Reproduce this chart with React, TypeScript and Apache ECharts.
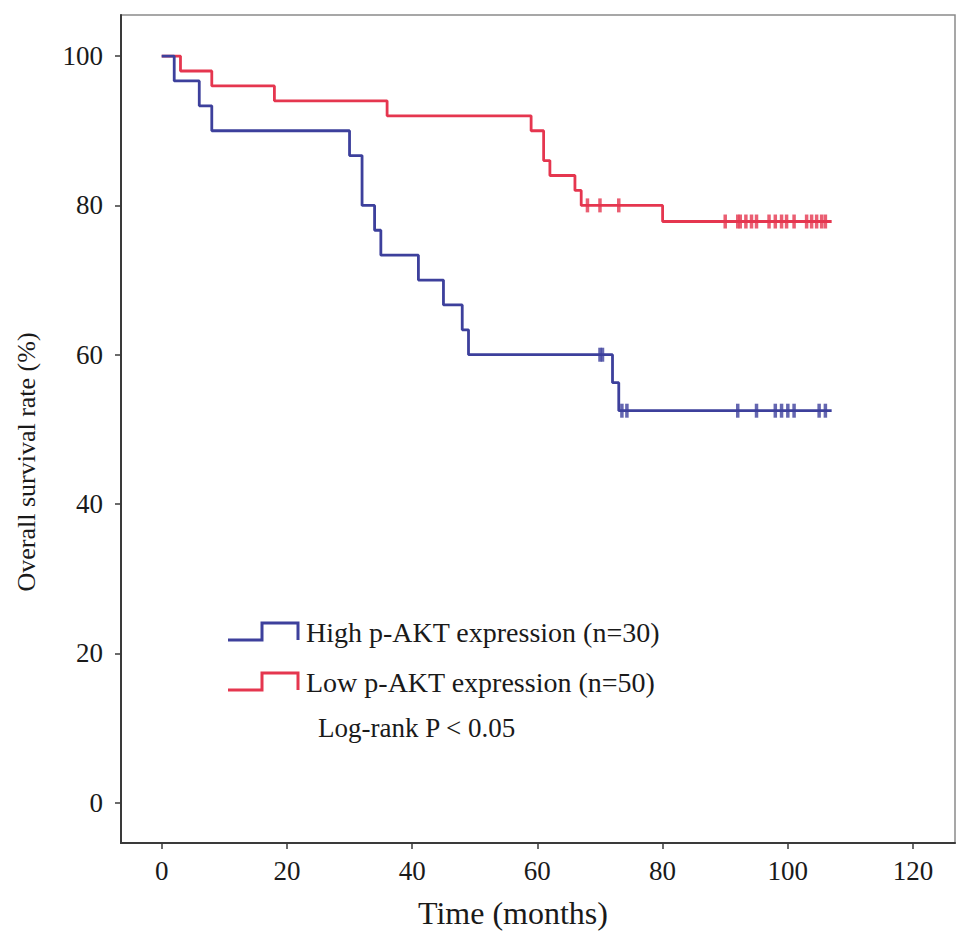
import { useEffect, useRef } from "react";
import * as echarts from "echarts";

// Kaplan-Meier step data (time in months, survival in %)
const highTimes = [0, 2, 6, 8, 30, 32, 34, 35, 41, 45, 48, 49, 72, 73, 107];
const highSurv = [100, 96.67, 93.33, 90, 86.67, 80, 76.67, 73.33, 70, 66.67, 63.33, 60, 56.25, 52.5, 52.5];
const highCensored = [70, 70.4, 73.5, 74.3, 92, 95, 98, 99, 100, 101, 105, 106];

const lowTimes = [0, 3, 8, 18, 36, 59, 61, 62, 66, 67, 80, 107];
const lowSurv = [100, 98, 96, 94, 92, 90, 86, 84, 82, 80, 77.84, 77.84];
const lowCensored = [68, 70, 73, 90, 92, 92.4, 93.3, 94.2, 95, 97, 98, 99, 99.8, 101, 103, 103.8, 104.6, 105.4, 106];

const xTicks = [0, 20, 40, 60, 80, 100, 120];
const yTicks = [0, 20, 40, 60, 80, 100];

const legendLabels = ["High p-AKT expression (n=30)", "Low p-AKT expression (n=50)"];
const pValueText = "Log-rank P < 0.05";

const BLUE = "#3d409c";
const RED = "#e5364f";
const FONT = "Liberation Serif";

function survivalAt(times: number[], surv: number[], t: number) {
  let s = surv[0];
  for (let i = 0; i < times.length; i++) {
    if (times[i] <= t) s = surv[i];
  }
  return s;
}

function stepShape(x: number, y: number, color: string) {
  return {
    type: "polyline",
    shape: {
      points: [
        [x, y + 17],
        [x + 34, y + 17],
        [x + 34, y],
        [x + 70, y],
        [x + 70, y + 17],
      ],
    },
    style: { stroke: color, lineWidth: 3, fill: "none" },
  };
}

export default function App() {
  const chartRef = useRef<HTMLDivElement>(null);

  useEffect(() => {
    if (!chartRef.current) return;
    const chart = echarts.init(chartRef.current, undefined, { renderer: "svg" });

    const highLine = highTimes.map((t, i) => [t, highSurv[i]]);
    const lowLine = lowTimes.map((t, i) => [t, lowSurv[i]]);
    const highMarks = highCensored.map((t) => [t, survivalAt(highTimes, highSurv, t)]);
    const lowMarks = lowCensored.map((t) => [t, survivalAt(lowTimes, lowSurv, t)]);

    chart.setOption({
      animation: false,
      backgroundColor: "#ffffff",
      grid: {
        left: 121,
        right: 14,
        top: 15,
        bottom: 103,
        show: true,
        borderColor: "#8a8a8a",
        borderWidth: 1.5,
      },
      xAxis: {
        type: "value",
        min: -6.5,
        max: 126.7,
        splitLine: { show: false },
        axisLine: { onZero: false, lineStyle: { color: "#3a3a3a", width: 2 } },
        axisTick: {
          customValues: xTicks,
          length: 6,
          lineStyle: { color: "#3a3a3a", width: 1.5 },
        },
        axisLabel: {
          customValues: xTicks,
          margin: 14,
          color: "#1a1a1a",
          fontFamily: FONT,
          fontSize: 27,
        },
      },
      yAxis: {
        type: "value",
        min: -5.4,
        max: 105.5,
        splitLine: { show: false },
        axisLine: { show: true, onZero: false, lineStyle: { color: "#3a3a3a", width: 2 } },
        axisTick: {
          show: true,
          customValues: yTicks,
          length: 6,
          lineStyle: { color: "#3a3a3a", width: 1.5 },
        },
        axisLabel: {
          customValues: yTicks,
          margin: 18,
          color: "#1a1a1a",
          fontFamily: FONT,
          fontSize: 27,
        },
      },
      series: [
        {
          name: "High p-AKT",
          type: "line",
          step: "end",
          data: highLine,
          showSymbol: false,
          lineStyle: { color: BLUE, width: 2.8 },
          z: 3,
        },
        {
          name: "Low p-AKT",
          type: "line",
          step: "end",
          data: lowLine,
          showSymbol: false,
          lineStyle: { color: RED, width: 2.8 },
          z: 2,
        },
        {
          type: "scatter",
          data: highMarks,
          symbol: "rect",
          symbolSize: [3.5, 14],
          itemStyle: { color: BLUE },
          z: 4,
        },
        {
          type: "scatter",
          data: lowMarks,
          symbol: "rect",
          symbolSize: [3.5, 14],
          itemStyle: { color: RED },
          z: 4,
        },
      ],
      graphic: [
        {
          type: "text",
          left: 418,
          top: 897,
          style: {
            text: "Time (months)",
            fontFamily: FONT,
            fontSize: 32,
            fill: "#1a1a1a",
          },
        },
        {
          type: "text",
          x: 26,
          y: 462,
          rotation: Math.PI / 2,
          style: {
            text: "Overall survival rate (%)",
            fontFamily: FONT,
            fontSize: 26,
            fill: "#1a1a1a",
            align: "center",
            verticalAlign: "middle",
          },
        },
        stepShape(228, 623, BLUE),
        stepShape(228, 673, RED),
        {
          type: "text",
          x: 306,
          y: 632,
          style: {
            text: legendLabels[0],
            fontFamily: FONT,
            fontSize: 28,
            fill: "#1a1a1a",
            verticalAlign: "middle",
          },
        },
        {
          type: "text",
          x: 306,
          y: 682,
          style: {
            text: legendLabels[1],
            fontFamily: FONT,
            fontSize: 28,
            fill: "#1a1a1a",
            verticalAlign: "middle",
          },
        },
        {
          type: "text",
          x: 318,
          y: 728,
          style: {
            text: pValueText,
            fontFamily: FONT,
            fontSize: 27,
            fill: "#1a1a1a",
            verticalAlign: "middle",
          },
        },
      ],
    });

    return () => {
      chart.dispose();
    };
  }, []);

  return (
    <div
      ref={chartRef}
      style={{ position: "absolute", left: 0, top: 0, width: 969, height: 946 }}
    />
  );
}
